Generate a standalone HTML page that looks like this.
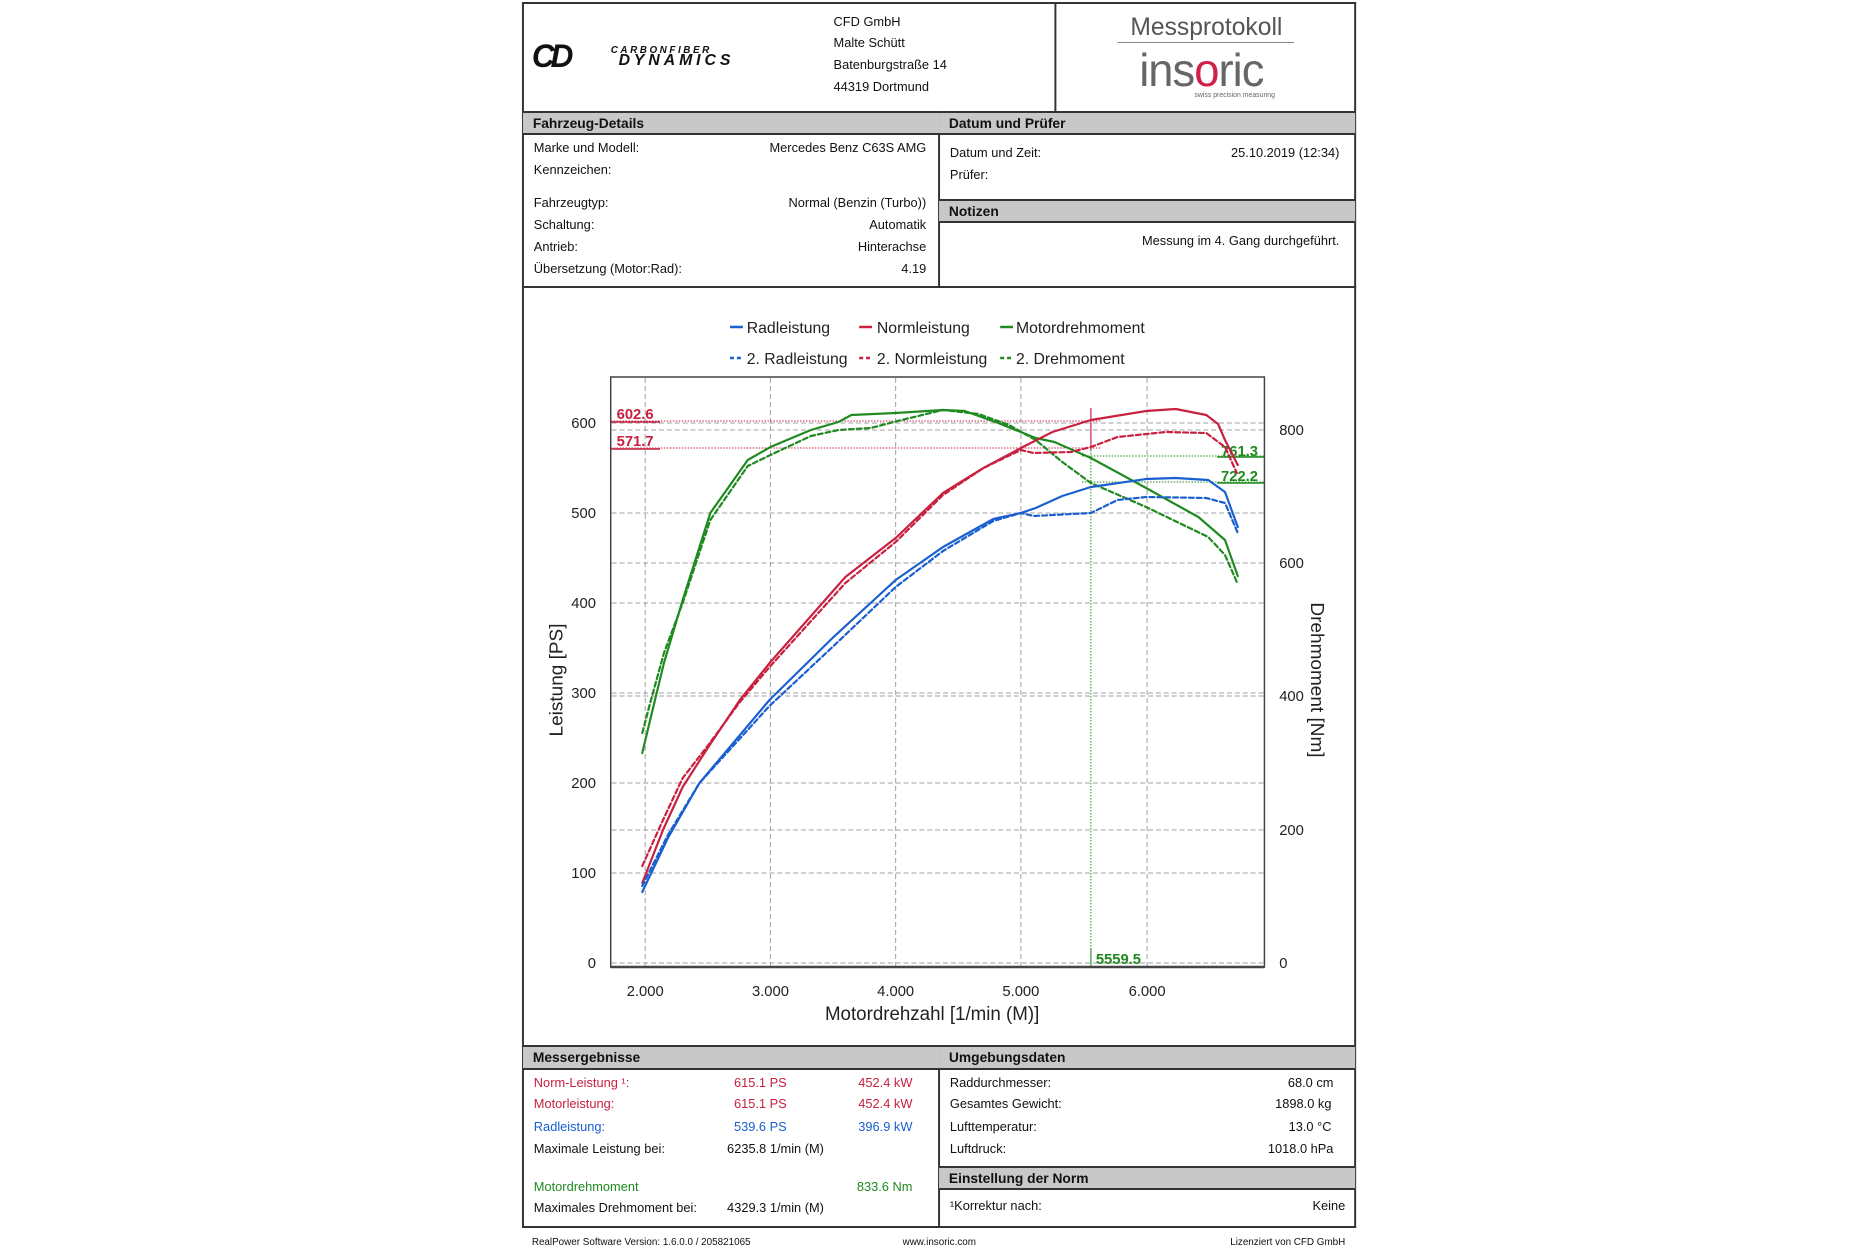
<!DOCTYPE html>
<html><head><meta charset="utf-8">
<style>
body{margin:0;width:1875px;height:1250px;background:#fff;position:relative;font-family:"Liberation Sans",sans-serif;color:#111;overflow:hidden}
#w{position:absolute;left:0;top:0;width:1875px;height:1250px;transform-origin:520px 0;transform:scaleX(0.986)}
.a{position:absolute;white-space:nowrap;font-size:13px;line-height:16px}
.r{text-align:right}
.bar{position:absolute;background:#c8c8c8;border-top:2px solid #333;border-bottom:2px solid #333;box-sizing:border-box;font-weight:bold;font-size:14px;padding-left:10px;line-height:20px}
.ln{position:absolute;background:#333}
</style></head><body><div id="w">
<!-- frame -->
<div class="ln" style="left:522px;top:2px;width:846px;height:2px"></div>
<div class="ln" style="left:522px;top:2px;width:2px;height:1226px"></div>
<div class="ln" style="left:1366px;top:2px;width:2px;height:1226px"></div>
<div class="ln" style="left:522px;top:1226px;width:846px;height:2px"></div>
<div class="ln" style="left:1062px;top:2px;width:2px;height:110px"></div>
<div class="ln" style="left:944px;top:111px;width:2px;height:176px"></div>
<div class="ln" style="left:522px;top:286px;width:846px;height:2px"></div>
<div class="ln" style="left:944px;top:1045px;width:2px;height:182px"></div>

<div class="bar" style="left:523px;top:111px;width:422px;height:24px">Fahrzeug-Details</div>
<div class="bar" style="left:945px;top:111px;width:422px;height:24px">Datum und Prüfer</div>
<div class="bar" style="left:945px;top:199px;width:422px;height:24px">Notizen</div>
<div class="bar" style="left:523px;top:1045px;width:422px;height:25px">Messergebnisse</div>
<div class="bar" style="left:945px;top:1045px;width:422px;height:25px">Umgebungsdaten</div>
<div class="bar" style="left:945px;top:1166px;width:422px;height:24px">Einstellung der Norm</div>

<!-- logo -->
<div class="a" style="left:532px;top:41px;font-size:32px;font-weight:900;font-style:italic;letter-spacing:-4px;line-height:30px">CD</div>
<div class="a" style="left:612px;top:46px;font-size:10px;font-weight:900;font-style:italic;letter-spacing:2.6px;line-height:10px">CARBONFIBER</div>
<div class="a" style="left:620px;top:53px;font-size:16px;font-weight:900;font-style:italic;letter-spacing:4px;line-height:15px">DYNAMICS</div>
<div class="a" style="left:838px;top:14px">CFD GmbH</div>
<div class="a" style="left:838px;top:35px">Malte Schütt</div>
<div class="a" style="left:838px;top:57px">Batenburgstraße 14</div>
<div class="a" style="left:838px;top:79px">44319 Dortmund</div>
<div class="a" style="left:1139px;top:13px;font-size:25px;line-height:28px;color:#555">Messprotokoll</div>
<div class="ln" style="left:1126px;top:42px;width:179px;height:1px;background:#888"></div>
<div class="a" style="left:1148px;top:47px;font-size:46px;line-height:46px;color:#666;letter-spacing:-1px">ins<span style="color:#d0204a">o</span>ric</div>
<div class="a" style="left:1204px;top:92px;font-size:7px;line-height:8px;color:#666">swiss precision measuring</div>

<!-- details -->
<div class="a" style="left:534px;top:140px">Marke und Modell:</div>
<div class="a" style="left:534px;top:162px">Kennzeichen:</div>
<div class="a" style="left:534px;top:195px">Fahrzeugtyp:</div>
<div class="a" style="left:534px;top:217px">Schaltung:</div>
<div class="a" style="left:534px;top:239px">Antrieb:</div>
<div class="a" style="left:534px;top:261px">Übersetzung (Motor:Rad):</div>
<div class="a r" style="right:943px;top:140px">Mercedes Benz C63S AMG</div>
<div class="a r" style="right:943px;top:195px">Normal (Benzin (Turbo))</div>
<div class="a r" style="right:943px;top:217px">Automatik</div>
<div class="a r" style="right:943px;top:239px">Hinterachse</div>
<div class="a r" style="right:943px;top:261px">4.19</div>
<div class="a" style="left:956px;top:145px">Datum und Zeit:</div>
<div class="a" style="left:956px;top:167px">Prüfer:</div>
<div class="a r" style="right:524px;top:145px">25.10.2019 (12:34)</div>
<div class="a r" style="right:524px;top:233px">Messung im 4. Gang durchgeführt.</div>

<!-- results -->
<div class="a" style="left:534px;top:1075px;color:#c8203f">Norm-Leistung ¹:</div>
<div class="a" style="left:534px;top:1096px;color:#c8203f">Motorleistung:</div>
<div class="a" style="left:534px;top:1119px;color:#1a5fcf">Radleistung:</div>
<div class="a" style="left:534px;top:1141px">Maximale Leistung bei:</div>
<div class="a" style="left:534px;top:1179px;color:#1f8a1f">Motordrehmoment</div>
<div class="a" style="left:534px;top:1200px">Maximales Drehmoment bei:</div>
<div class="a" style="left:737px;top:1075px;color:#c8203f">615.1 PS</div>
<div class="a" style="left:737px;top:1096px;color:#c8203f">615.1 PS</div>
<div class="a" style="left:737px;top:1119px;color:#1a5fcf">539.6 PS</div>
<div class="a" style="left:730px;top:1141px">6235.8 1/min (M)</div>
<div class="a" style="left:730px;top:1200px">4329.3 1/min (M)</div>
<div class="a r" style="right:957px;top:1075px;color:#c8203f">452.4 kW</div>
<div class="a r" style="right:957px;top:1096px;color:#c8203f">452.4 kW</div>
<div class="a r" style="right:957px;top:1119px;color:#1a5fcf">396.9 kW</div>
<div class="a r" style="right:957px;top:1179px;color:#1f8a1f">833.6 Nm</div>
<div class="a" style="left:956px;top:1075px">Raddurchmesser:</div>
<div class="a" style="left:956px;top:1096px">Gesamtes Gewicht:</div>
<div class="a" style="left:956px;top:1119px">Lufttemperatur:</div>
<div class="a" style="left:956px;top:1141px">Luftdruck:</div>
<div class="a" style="left:956px;top:1198px">¹Korrektur nach:</div>
<div class="a r" style="right:530px;top:1075px">68.0 cm</div>
<div class="a r" style="right:532px;top:1096px">1898.0 kg</div>
<div class="a r" style="right:532px;top:1119px">13.0 °C</div>
<div class="a r" style="right:530px;top:1141px">1018.0 hPa</div>
<div class="a r" style="right:518px;top:1198px">Keine</div>
<div class="a" style="left:532px;top:1237px;font-size:10px;line-height:12px">RealPower Software Version: 1.6.0.0 / 205821065</div>
<div class="a" style="left:908px;top:1237px;font-size:10px;line-height:12px">www.insoric.com</div>
<div class="a r" style="right:518px;top:1237px;font-size:10px;line-height:12px">Lizenziert von CFD GmbH</div>

<svg style="position:absolute;left:0;top:0" width="1875" height="1250" font-family="Liberation Sans, sans-serif">
<!-- legend -->
<g font-size="16" fill="#222">
<line x1="733" y1="327" x2="746" y2="327" stroke="#1a5fcf" stroke-width="2.5"/><text x="750" y="333">Radleistung</text>
<line x1="864" y1="327" x2="877" y2="327" stroke="#c8203f" stroke-width="2.5"/><text x="882" y="333">Normleistung</text>
<line x1="1007" y1="327" x2="1020" y2="327" stroke="#1f8a1f" stroke-width="2.5"/><text x="1023" y="333">Motordrehmoment</text>
<line x1="733" y1="358" x2="746" y2="358" stroke="#1a5fcf" stroke-width="2.5" stroke-dasharray="4,3"/><text x="750" y="364">2. Radleistung</text>
<line x1="864" y1="358" x2="877" y2="358" stroke="#c8203f" stroke-width="2.5" stroke-dasharray="4,3"/><text x="882" y="364">2. Normleistung</text>
<line x1="1007" y1="358" x2="1020" y2="358" stroke="#1f8a1f" stroke-width="2.5" stroke-dasharray="4,3"/><text x="1023" y="364">2. Drehmoment</text>
</g>
<!-- grid -->
<g stroke="#a0a0a0" stroke-width="1" stroke-dasharray="5,3" fill="none">
<path d="M647 378V966M774 378V966M901 378V966M1028 378V966M1156 378V966"/>
<path d="M613 963H1274M613 873H1274M613 783H1274M613 693H1274M613 603H1274M613 513H1274M613 423H1274"/>
<path d="M613 830H1274M613 696H1274M613 563H1274M613 430H1274"/>
</g>
<rect x="612" y="377" width="663" height="590" fill="none" stroke="#444" stroke-width="1.5"/>
<line x1="612" y1="967" x2="1275" y2="967" stroke="#444" stroke-width="2.5"/>
<!-- tick labels -->
<g font-size="15" fill="#222" text-anchor="end">
<text x="597" y="968">0</text><text x="597" y="878">100</text><text x="597" y="788">200</text><text x="597" y="698">300</text><text x="597" y="608">400</text><text x="597" y="518">500</text><text x="597" y="428">600</text>
</g>
<g font-size="15" fill="#222">
<text x="1290" y="968">0</text><text x="1290" y="835">200</text><text x="1290" y="701">400</text><text x="1290" y="568">600</text><text x="1290" y="435">800</text>
</g>
<g font-size="15" fill="#222" text-anchor="middle">
<text x="647" y="996">2.000</text><text x="774" y="996">3.000</text><text x="901" y="996">4.000</text><text x="1028" y="996">5.000</text><text x="1156" y="996">6.000</text>
</g>
<text x="938" y="1020" font-size="19" fill="#222" text-anchor="middle">Motordrehzahl [1/min (M)]</text>
<text transform="translate(563,680) rotate(-90)" font-size="19" fill="#222" text-anchor="middle">Leistung [PS]</text>
<text transform="translate(1322,680) rotate(90)" font-size="19" fill="#222" text-anchor="middle">Drehmoment [Nm]</text>
<!-- annotations -->
<g stroke-width="1" fill="none">
<line x1="612" y1="421" x2="1109" y2="421" stroke="#c8203f" stroke-dasharray="1.5,1.5"/>
<line x1="612" y1="448" x2="1109" y2="448" stroke="#c8203f" stroke-dasharray="1.5,1.5"/>
<line x1="612" y1="422" x2="662" y2="422" stroke="#c8203f" stroke-width="1.5"/>
<line x1="612" y1="449" x2="662" y2="449" stroke="#c8203f" stroke-width="1.5"/>
<line x1="1099" y1="408" x2="1099" y2="450" stroke="#c8203f" stroke-width="1.2"/>
<line x1="1099" y1="450" x2="1099" y2="966" stroke="#1f8a1f" stroke-dasharray="1.5,1.5"/>
<line x1="1099" y1="948" x2="1099" y2="966" stroke="#1f8a1f"/>
<line x1="1090" y1="456" x2="1275" y2="456" stroke="#1f8a1f" stroke-dasharray="1.5,1.5"/>
<line x1="1090" y1="482" x2="1275" y2="482" stroke="#1f8a1f" stroke-dasharray="1.5,1.5"/>
<line x1="1227" y1="457" x2="1275" y2="457" stroke="#1f8a1f" stroke-width="1.5"/>
<line x1="1227" y1="483" x2="1275" y2="483" stroke="#1f8a1f" stroke-width="1.5"/>
</g>
<g font-size="15" font-weight="bold">
<text x="618" y="419" fill="#c8203f">602.6</text>
<text x="618" y="446" fill="#c8203f">571.7</text>
<text x="1231" y="456" fill="#1f8a1f">761.3</text>
<text x="1231" y="481" fill="#1f8a1f">722.2</text>
<text x="1104" y="964" fill="#1f8a1f">5559.5</text>
</g>
<!-- curves -->
<g fill="none" stroke-width="2.2" stroke-linejoin="round" stroke-linecap="round">
<polyline stroke="#1f8a1f" stroke-dasharray="5,3" points="644,733 652,703 666,653 685,603 713,520 751,466 774,455 815,436 843,430 876,428 907,420 949,410 985,414 1016,425 1043,440 1070,462 1099,483 1155,507 1218,537 1235,555 1247,582"/>
<polyline stroke="#1f8a1f" points="644,753 652,720 666,663 685,600 713,513 751,460 774,447 815,430 843,422 856,415 901,413 949,410 971,411 1005,423 1043,438 1062,442 1099,458 1155,488 1208,517 1235,540 1248,576"/>
<polyline stroke="#c8203f" stroke-dasharray="5,3" points="644,866 665,820 685,778 711,745 743,702 774,666 850,583 901,542 949,495 990,468 1028,450 1041,453 1079,452 1099,447 1126,437 1175,432 1216,433 1235,447 1247,473"/>
<polyline stroke="#c8203f" points="644,883 665,830 685,787 711,747 743,700 774,662 850,577 901,538 949,493 990,468 1028,448 1060,432 1099,420 1155,411 1185,409 1216,415 1228,424 1235,440 1248,465"/>
<polyline stroke="#1a5fcf" stroke-dasharray="5,3" points="644,886 670,835 702,783 773,706 838,646 901,587 949,551 1000,521 1028,513 1041,516 1099,513 1126,500 1155,497 1216,498 1235,503 1248,533"/>
<polyline stroke="#1a5fcf" points="644,892 670,838 702,783 773,700 838,637 901,580 949,547 1000,519 1028,513 1043,508 1070,496 1099,487 1155,479 1185,478 1218,480 1235,492 1248,527"/>
</g>
</svg>
</div></body></html>
